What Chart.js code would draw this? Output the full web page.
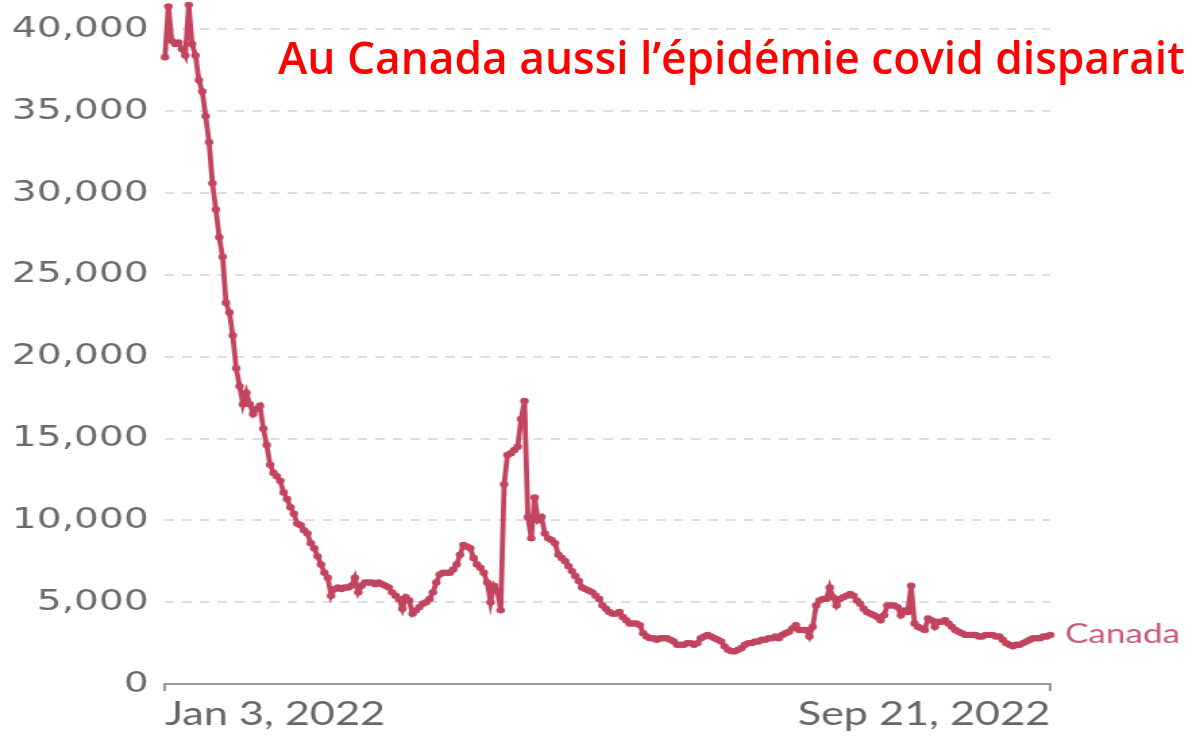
<!DOCTYPE html>
<html>
<head>
<meta charset="utf-8">
<script src="https://cdn.jsdelivr.net/npm/chart.js@4.4.1/dist/chart.umd.min.js"></script>
<style>
  html, body { margin: 0; padding: 0; background: #fff; }
  body { width: 1200px; height: 736px; position: relative; overflow: hidden; }
  #wrap { position: absolute; left: 0; top: 0; width: 889px; height: 736px; transform: scaleX(1.34983); transform-origin: 0 0; }
  #title { position: absolute; left: 278px; top: 33px; font-family: "Open Sans", sans-serif; font-weight: 650; font-size: 46px; line-height: 46px; color: #ff0000; white-space: nowrap; transform-origin: 0 0; }
</style>
</head>
<body>
<div id="wrap"><canvas id="chart"></canvas></div>
<div id="title">Au Canada aussi l’épidémie covid disparait</div>
<script>
const startDate = Date.UTC(2022, 0, 3);
const seriesName = 'Canada';

// daily cases, Jan 3 → Sep 21, 2022
const canadaCases = [
  38300, 41400, 39300, 39100, 39200, 38800, 38400, 41500, 39100, 38400,
  36900, 36200, 34700, 33100, 30600, 29000, 27300, 26100, 23300, 22700,
  21300, 19300, 18200, 17100, 17800, 17100, 16500, 16800, 17000, 15600,
  14600, 13400, 12900, 12700, 12400, 11700, 11300, 10800, 10400, 9800,
  9700, 9400, 9200, 8600, 8300, 7800, 7300, 6800, 6500, 5400,
  5800, 5900, 5800, 5900, 5900, 6000, 6500, 5600, 6000, 6200,
  6200, 6200, 6100, 6200, 6100, 6000, 5900, 5600, 5400, 5200,
  4600, 5300, 5100, 4300, 4500, 4700, 4900, 5000, 5200, 5600,
  6200, 6700, 6800, 6800, 6800, 7000, 7300, 7900, 8500, 8400,
  8300, 7700, 7300, 7100, 6800, 6200, 5000, 6000, 5700, 4500,
  12200, 14000, 14100, 14300, 14500, 16200, 17300, 10200, 8900, 11400,
  10000, 10200, 9200, 8900, 8800, 8600, 7900, 7700, 7500, 7200,
  6900, 6600, 6300, 5900, 5800, 5700, 5600, 5400, 5200, 4800,
  4600, 4400, 4300, 4300, 4400, 4100, 3900, 3700, 3700, 3700,
  3600, 3100, 2900, 2800, 2800, 2700, 2800, 2800, 2800, 2700,
  2600, 2400, 2400, 2400, 2500, 2500, 2400, 2500, 2800, 2900,
  3000, 2900, 2800, 2700, 2600, 2300, 2100, 2000, 2000, 2100,
  2200, 2400, 2500, 2500, 2600, 2600, 2700, 2700, 2800, 2800,
  2900, 2800, 3000, 3100, 3200, 3400, 3600, 3300, 3300, 3300,
  2900, 3500, 4800, 5100, 5200, 5200, 5900, 5300, 4800, 5200,
  5300, 5400, 5500, 5400, 5100, 4900, 4600, 4400, 4300, 4200,
  4100, 3900, 4200, 4800, 4800, 4800, 4700, 4200, 4500, 4400,
  6000, 3700, 3500, 3400, 3300, 4000, 3900, 3500, 3800, 3800,
  3900, 3700, 3500, 3300, 3200, 3100, 3000, 3000, 3000, 3000,
  2900, 2900, 3000, 3000, 3000, 2900, 2900, 2700, 2500, 2400,
  2300, 2400, 2400, 2500, 2600, 2700, 2800, 2800, 2800, 2900,
  2900, 3000
];

const yTicks = [0, 5000, 10000, 15000, 20000, 25000, 30000, 35000, 40000];

const dayLabels = canadaCases.map((_, i) =>
  new Date(startDate + i * 86400000).toLocaleDateString('en-US', { month: 'short', day: 'numeric', year: 'numeric', timeZone: 'UTC' })
);

const lineColor = '#c2445f';

const endLabel = {
  id: 'endLabel',
  afterDatasetsDraw(chart) {
    const meta = chart.getDatasetMeta(0);
    const last = meta.data[meta.data.length - 1];
    const ctx = chart.ctx;
    ctx.save();
    ctx.font = '26px Lato';
    ctx.fillStyle = '#c65b76';
    ctx.textBaseline = 'middle';
    ctx.fillText(seriesName, last.x + 11, last.y);
    ctx.restore();
  }
};

new Chart(document.getElementById('chart'), {
  type: 'line',
  data: {
    labels: dayLabels,
    datasets: [{
      label: seriesName,
      data: canadaCases,
      borderColor: lineColor,
      backgroundColor: lineColor,
      borderWidth: 3.8,
      pointRadius: 3.2,
      pointBorderWidth: 0,
      pointHoverRadius: 0,
      tension: 0,
      clip: false
    }]
  },
  options: {
    responsive: true,
    maintainAspectRatio: false,
    animation: false,
    events: [],
    layout: { padding: { left: 10, right: 111, top: 0, bottom: 0 } },
    plugins: { legend: { display: false }, tooltip: { enabled: false } },
    scales: {
      x: {
        type: 'category',
        afterBuildTicks: s => { s.ticks = [s.ticks[0], s.ticks[s.ticks.length - 1]]; },
        afterFit: s => { s.height = 52; s.paddingLeft = 0; s.paddingRight = 0; },
        ticks: { autoSkip: false, maxRotation: 0, align: 'inner', padding: 4, color: '#666', font: { family: 'Lato', size: 32 } },
        grid: { drawOnChartArea: false, drawTicks: true, tickLength: 7, color: '#9a9a9a', lineWidth: 2 },
        border: { display: true, color: '#9a9a9a', width: 2 }
      },
      y: {
        min: 0,
        max: 41600,
        afterBuildTicks: s => { s.ticks = yTicks.map(v => ({ value: v })); },
        afterFit: s => { s.width = 112.2; s.paddingTop = 0; s.paddingBottom = 0; },
        ticks: { padding: 12, color: '#6a6a6a', font: { family: 'DejaVu Sans', size: 29 }, callback: v => v.toLocaleString('en-US') },
        grid: { drawTicks: false, lineWidth: 2, color: c => c.tick.value === 0 ? 'rgba(0,0,0,0)' : '#dddddd' },
        border: { display: false, dash: [7, 6] }
      }
    }
  },
  plugins: [endLabel]
});

const title = document.getElementById('title');
title.style.transform = 'scaleX(' + (907 / title.offsetWidth) + ')';
</script>
</body>
</html>
